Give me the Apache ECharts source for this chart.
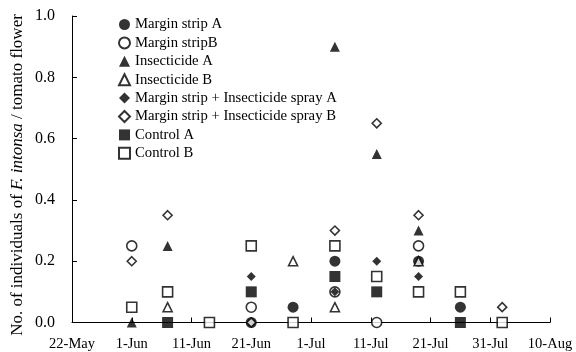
<!DOCTYPE html>
<html>
<head>
<meta charset="utf-8">
<script src="https://cdn.jsdelivr.net/npm/echarts@6/dist/echarts.min.js"></script>
<style>html,body{margin:0;padding:0;background:#fff;}#c{width:576px;height:352px;}</style>
</head>
<body>
<div id="c"></div>
<script>
// ---- data ----
var axisStart = '2008-05-22';
var tickLabels = ['22-May','1-Jun','11-Jun','21-Jun','1-Jul','11-Jul','21-Jul','31-Jul','10-Aug'];
var sampleDates = ['2008-06-01','2008-06-07','2008-06-14','2008-06-21','2008-06-28','2008-07-05','2008-07-12','2008-07-19','2008-07-26','2008-08-02'];
var marginStripA   = [null, null, null, 0,    0.05, 0.2,  null, 0.2,  0.05, null];
var marginStripB   = [0.25, null, null, 0.05, null, 0.1,  0,    0.25, null, null];
var insecticideA   = [0,    0.25, null, null, null, 0.9,  0.55, 0.3,  null, null];
var insecticideB   = [null, 0.05, null, null, 0.2,  0.05, null, 0.2,  null, null];
var stripSprayA    = [null, null, null, 0.15, null, 0.1,  0.2,  0.15, null, null];
var stripSprayB    = [0.2,  0.35, null, 0,    null, 0.3,  0.65, 0.35, null, 0.05];
var controlA       = [null, 0,    null, 0.1,  null, 0.15, 0.1,  null, 0,    null];
var controlB       = [0.05, 0.1,  0,    0.25, 0,    0.25, 0.15, 0.1,  0.1,  0];
var seriesNames = ['Margin strip A','Margin stripB','Insecticide A','Insecticide B',
  'Margin strip + Insecticide spray A','Margin strip + Insecticide spray B','Control A','Control B'];
var yTitleParts = ['No. of individuals of ', 'F. intonsa', ' / tomato flower'];

// ---- build ----
var DAY = 86400000;
var t0 = Date.parse(axisStart + 'T00:00:00Z');
function dayOff(s){ return Math.round((Date.parse(s + 'T00:00:00Z') - t0) / DAY); }
function pts(vals){
  var out = [];
  for (var i = 0; i < vals.length; i++) if (vals[i] !== null) out.push([dayOff(sampleDates[i]), vals[i]]);
  return out;
}
var FONT = "'Liberation Serif','Times New Roman',serif";
var DIAM = 'path://M0,-1L1,0L0,1L-1,0Z';
function ser(name, vals, symbol, size, filled){
  return {
    name: name, type: 'scatter', data: pts(vals), symbol: symbol, symbolSize: size,
    itemStyle: filled ? {color: '#000', borderColor: '#000', borderWidth: 0}
                      : {color: '#fff', borderColor: '#000', borderWidth: 1.6},
    emphasis: {disabled: true}, animation: false
  };
}
var series = [
  ser(seriesNames[0], marginStripA, 'circle', 11, true),
  ser(seriesNames[1], marginStripB, 'circle', 10, false),
  ser(seriesNames[2], insecticideA, 'triangle', 10, true),
  ser(seriesNames[3], insecticideB, 'triangle', 9, false),
  ser(seriesNames[4], stripSprayA, DIAM, 9, true),
  ser(seriesNames[5], stripSprayB, DIAM, 9, false),
  ser(seriesNames[6], controlA, 'rect', 11, true),
  ser(seriesNames[7], controlB, 'rect', 10, false)
];

var chart = echarts.init(document.getElementById('c'), null, {renderer: 'canvas'});
chart.setOption({
  animation: false,
  backgroundColor: '#fff',
  grid: {left: 72, right: 26, top: 16, bottom: 29.5, containLabel: false},
  legend: {
    orient: 'vertical', left: 118, top: 17, padding: 0,
    itemWidth: 11, itemHeight: 11, itemGap: 3.4,
    data: seriesNames,
    textStyle: {fontFamily: FONT, fontSize: 14.7, color: '#000'},
    selectedMode: false
  },
  graphic: [{
    type: 'text', x: 18, y: 175, rotation: Math.PI / 2, silent: true,
    style: {
      text: '{n|' + yTitleParts[0] + '}{i|' + yTitleParts[1] + '}{n|' + yTitleParts[2] + '}',
      align: 'center', verticalAlign: 'middle',
      fontFamily: FONT, fontSize: 17, fill: '#000',
      rich: {
        n: {fontFamily: FONT, fontSize: 17, fill: '#000', color: '#000'},
        i: {fontFamily: FONT, fontSize: 17, fill: '#000', color: '#000', fontStyle: 'italic'}
      }
    }
  }],
  xAxis: {
    type: 'value', min: 0, max: 80, interval: 10,
    axisLine: {lineStyle: {color: '#000', width: 1}},
    axisTick: {inside: true, length: 5, lineStyle: {color: '#000'}},
    splitLine: {show: false},
    axisLabel: {
      color: '#000', fontFamily: FONT, fontSize: 14.5, margin: 14,
      formatter: function(v){ return tickLabels[Math.round(v / 10)] || ''; }
    }
  },
  yAxis: {
    type: 'value', min: 0, max: 1, interval: 0.2,
    axisLine: {show: true, lineStyle: {color: '#000', width: 1}},
    axisTick: {show: true, inside: true, length: 5, lineStyle: {color: '#000'}},
    splitLine: {show: false},
    axisLabel: {color: '#000', fontFamily: FONT, fontSize: 16, margin: 17,
      formatter: function(v){ return v.toFixed(1); }}
  },
  series: series
});
</script>
</body>
</html>
